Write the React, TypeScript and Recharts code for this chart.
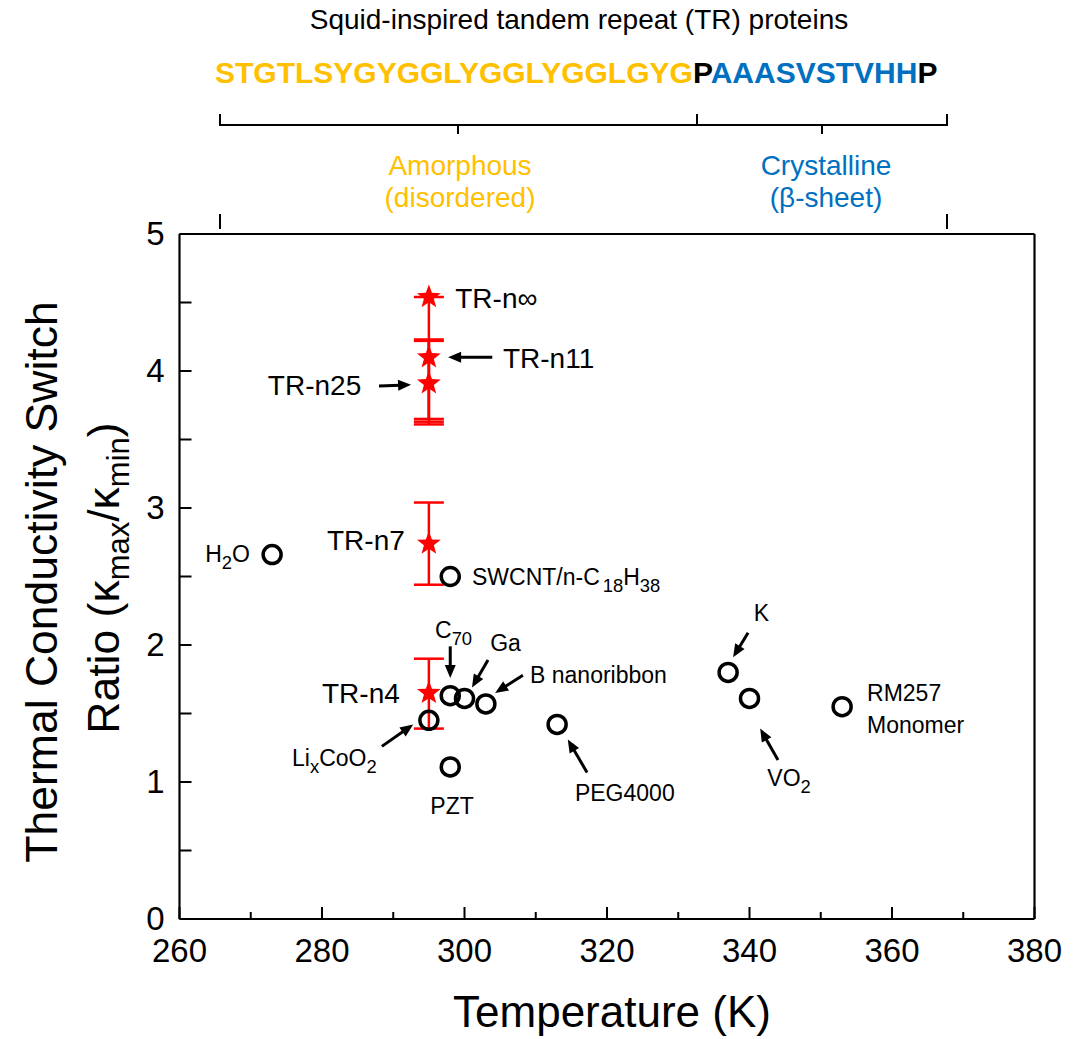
import React from 'react';
import { ScatterChart, Scatter, XAxis, YAxis, ErrorBar, ReferenceLine, ReferenceDot, Label } from 'recharts';

// TR protein series (stars with error bars)
const trNames = ['TR-n∞', 'TR-n11', 'TR-n25', 'TR-n7', 'TR-n4'];
const trTemp = [295, 295, 295, 295, 295];
const trRatio = [4.54, 4.1, 3.91, 2.74, 1.65];
const trErrLow = [0.91, 0.49, 0.26, 0.3, 0.26];
const trErrHigh = [0, 0.13, 0.31, 0.3, 0.25];

// literature materials (open circles)
const refNames = ['H2O', 'SWCNT/n-C18H38', 'C70', 'Ga', 'B nanoribbon', 'LixCoO2', 'PZT', 'PEG4000', 'K', 'VO2', 'RM257 Monomer'];
const refTemp = [273, 298, 298, 300, 303, 295, 298, 313, 337, 340, 353];
const refRatio = [2.66, 2.5, 1.63, 1.61, 1.57, 1.45, 1.11, 1.42, 1.8, 1.61, 1.55];

const xTicks = [260, 270, 280, 290, 300, 310, 320, 330, 340, 350, 360, 370, 380];
const yTicks = [0, 0.5, 1, 1.5, 2, 2.5, 3, 3.5, 4, 4.5, 5];

const trData = trNames.map((name, i) => ({ name, x: trTemp[i], y: trRatio[i], err: [trErrLow[i], trErrHigh[i]] }));
const refData = refNames.map((name, i) => ({ name, x: refTemp[i], y: refRatio[i] }));

// text annotations: [text, isSubscript]
type Part = [string, boolean?];
const notes: { x: number; y: number; size: number; parts: Part[] }[] = [
  { x: 298.7, y: 4.53, size: 28, parts: [['TR-n∞']] },
  { x: 305.4, y: 4.095, size: 28, parts: [['TR-n11']] },
  { x: 272.4, y: 3.9, size: 28, parts: [['TR-n25']] },
  { x: 280.7, y: 2.766, size: 28, parts: [['TR-n7']] },
  { x: 280.0, y: 1.65, size: 28, parts: [['TR-n4']] },
  { x: 263.6, y: 2.664, size: 23, parts: [['H'], ['2', true], ['O']] },
  { x: 301.05, y: 2.496, size: 23, parts: [['SWCNT/n-C'], ['18', true], ['H'], ['38', true]] },
  { x: 295.86, y: 2.109, size: 23, parts: [['C'], ['70', true]] },
  { x: 303.6, y: 2.015, size: 23, parts: [['Ga']] },
  { x: 309.2, y: 1.78, size: 23, parts: [['B nanoribbon']] },
  { x: 275.8, y: 1.18, size: 23, parts: [['Li'], ['x', true], ['CoO'], ['2', true]] },
  { x: 295.2, y: 0.825, size: 23, parts: [['PZT']] },
  { x: 315.5, y: 0.92, size: 23, parts: [['PEG4000']] },
  { x: 340.6, y: 2.234, size: 23, parts: [['K']] },
  { x: 342.5, y: 1.03, size: 23, parts: [['VO'], ['2', true]] },
  { x: 356.5, y: 1.65, size: 23, parts: [['RM257']] },
  { x: 356.5, y: 1.416, size: 23, parts: [['Monomer']] },
];

// arrows: tail -> head
const arrows = [
  [303.9, 4.1, 297.7, 4.1],
  [288.0, 3.89, 292.5, 3.9],
  [298.0, 1.99, 298.0, 1.76],
  [303.3, 1.89, 301.05, 1.69],
  [308.2, 1.78, 304.3, 1.65],
  [288.4, 1.26, 292.8, 1.42],
  [317.2, 1.07, 314.5, 1.31],
  [339.8, 2.09, 337.7, 1.91],
  [344.0, 1.16, 341.5, 1.39],
];

const W = 1076;
const H = 1031;
const LEFT = 171.5;
const RIGHT = 1026.5;
const TOP = 226;
const BOTTOM = 911;
const FONT = '"Liberation Sans", Arial, Helvetica, sans-serif';
const ORANGE = '#FFC000';
const BLUE = '#0070C0';
const RED = '#FF0000';

function RichText({ x, y, size, parts, anchor = 'start' }: any) {
  const shift = size * 0.3;
  let down = false;
  return (
    <text x={x} y={y} fontSize={size} fontFamily={FONT} fill="#000" textAnchor={anchor}>
      {parts.map((p: Part, i: number) => {
        const sub = !!p[1];
        let dy = 0;
        if (sub && !down) { dy = shift; down = true; }
        else if (!sub && down) { dy = -shift; down = false; }
        return (
          <tspan key={i} dy={dy} fontSize={sub ? size * 0.8 : size} dx={sub && p[0] === '18' ? 3 : 0}>{p[0]}</tspan>
        );
      })}
    </text>
  );
}

function Star({ cx, cy }: any) {
  const pts: string[] = [];
  for (let i = 0; i < 10; i++) {
    const r = i % 2 === 0 ? 12.5 : 5.2;
    const a = -Math.PI / 2 + (i * Math.PI) / 5;
    pts.push(`${cx + r * Math.cos(a)},${cy + r * Math.sin(a)}`);
  }
  return <polygon points={pts.join(' ')} fill={RED} />;
}

function Ring({ cx, cy }: any) {
  return <circle cx={cx} cy={cy} r={9} fill="none" stroke="#000" strokeWidth={3.5} />;
}

function Arrow({ x1, y1, x2, y2 }: any) {
  const dx = x2 - x1;
  const dy = y2 - y1;
  const len = Math.hypot(dx, dy) || 1;
  const ux = dx / len;
  const uy = dy / len;
  const hl = 13;
  const hw = 5.5;
  const bx = x2 - ux * hl;
  const by = y2 - uy * hl;
  return (
    <g>
      <line x1={x1} y1={y1} x2={bx + ux * 2} y2={by + uy * 2} stroke="#000" strokeWidth={3} />
      <polygon points={`${x2},${y2} ${bx - uy * hw},${by + ux * hw} ${bx + uy * hw},${by - ux * hw}`} fill="#000" />
    </g>
  );
}

function BottomTick({ x, payload }: any) {
  const v = payload.value;
  const major = v % 20 === 0;
  return (
    <g>
      <line x1={x} x2={x} y1={BOTTOM} y2={BOTTOM - (major ? 12 : 7)} stroke="#000" strokeWidth={2} />
      {major && (
        <text x={x} y={BOTTOM + 43} textAnchor="middle" fontSize={33} fontFamily={FONT} fill="#000">{v}</text>
      )}
    </g>
  );
}

function TopTick({ x, payload }: any) {
  const major = payload.value % 20 === 0;
  return <line x1={x} x2={x} y1={TOP} y2={TOP + (major ? 12 : 10)} stroke="#000" strokeWidth={2} />;
}

function LeftTick({ y, payload }: any) {
  const v = payload.value;
  return (
    <g>
      <line x1={LEFT} x2={LEFT + 12} y1={y} y2={y} stroke="#000" strokeWidth={2} />
      {Number.isInteger(v) && (
        <text x={LEFT - 15} y={y + 11} textAnchor="end" fontSize={33} fontFamily={FONT} fill="#000">{v}</text>
      )}
    </g>
  );
}

function RightTick({ y }: any) {
  return <line x1={RIGHT} x2={RIGHT - 12} y1={y} y2={y} stroke="#000" strokeWidth={2} />;
}

function YTitle() {
  return (
    <g fontFamily={FONT} fill="#000">
      <text transform="translate(49,574) rotate(-90)" textAnchor="middle" fontSize={44.5}>
        Thermal Conductivity Switch
      </text>
      <text transform="translate(111,570) rotate(-90)" textAnchor="middle" fontSize={44.5}>
        <tspan>Ratio (κ</tspan>
        <tspan fontSize={31} dy={10}>max</tspan>
        <tspan dy={-10}>/κ</tspan>
        <tspan fontSize={31} dy={10}>min</tspan>
        <tspan dy={-10}>)</tspan>
      </text>
    </g>
  );
}

function XTitle() {
  return (
    <text x={604} y={1019} textAnchor="middle" fontSize={44} fontFamily={FONT} fill="#000">
      Temperature (K)
    </text>
  );
}

function Header() {
  return (
    <svg width={W} height={230} style={{ position: 'absolute', left: 0, top: 0, pointerEvents: 'none', overflow: 'visible' }}>
      <text x={571} y={21} textAnchor="middle" fontSize={28} fontFamily={FONT} fill="#000">
        Squid-inspired tandem repeat (TR) proteins
      </text>
      <text x={207} y={75} fontSize={30} fontWeight="bold" fontFamily={FONT}>
        <tspan fill={ORANGE}>STGTLSYGYGGLYGGLYGGLGYG</tspan>
        <tspan fill="#000">P</tspan>
        <tspan fill={BLUE}>AAASVSTVHH</tspan>
        <tspan fill="#000">P</tspan>
      </text>
      <g stroke="#000" strokeWidth={2} fill="none">
        <line x1={212} x2={939} y1={117} y2={117} />
        <line x1={212} x2={212} y1={106} y2={118} />
        <line x1={689} x2={689} y1={106} y2={118} />
        <line x1={939} x2={939} y1={106} y2={118} />
        <line x1={450} x2={450} y1={117} y2={126} />
        <line x1={814} x2={814} y1={117} y2={126} />
        <line x1={212} x2={212} y1={206} y2={221} />
        <line x1={939} x2={939} y1={206} y2={221} />
      </g>
      <g fontSize={28} fontFamily={FONT} textAnchor="middle">
        <text x={452} y={167} fill={ORANGE}>Amorphous</text>
        <text x={452} y={199} fill={ORANGE}>(disordered)</text>
        <text x={818} y={167} fill={BLUE}>Crystalline</text>
        <text x={818} y={199} fill={BLUE}>(β-sheet)</text>
      </g>
    </svg>
  );
}

const axisLine = { stroke: '#000', strokeWidth: 2.2 };

export default function App() {
  return (
    <div style={{ position: 'relative', width: W, height: H, background: '#fff' }}>
      <ScatterChart
        width={W}
        height={H}
        margin={{ top: TOP - 1, right: W - RIGHT - 1, bottom: H - BOTTOM - 1, left: LEFT - 1 }}
      >
        <XAxis
          type="number"
          dataKey="x"
          domain={[260, 380]}
          ticks={xTicks}
          interval={0}
          height={1}
          tickLine={false}
          tickSize={0}
          axisLine={axisLine}
          tick={<BottomTick />}
        >
          <Label content={<XTitle />} />
        </XAxis>
        <XAxis
          xAxisId="top"
          orientation="top"
          type="number"
          dataKey="x"
          domain={[260, 380]}
          ticks={xTicks}
          interval={0}
          height={1}
          tickLine={false}
          tickSize={0}
          axisLine={axisLine}
          tick={<TopTick />}
        />
        <YAxis
          type="number"
          dataKey="y"
          domain={[0, 5]}
          ticks={yTicks}
          interval={0}
          width={1}
          tickLine={false}
          tickSize={0}
          axisLine={axisLine}
          tick={<LeftTick />}
        >
          <Label content={<YTitle />} />
        </YAxis>
        <YAxis
          yAxisId="right"
          orientation="right"
          type="number"
          dataKey="y"
          domain={[0, 5]}
          ticks={yTicks}
          interval={0}
          width={1}
          tickLine={false}
          tickSize={0}
          axisLine={axisLine}
          tick={<RightTick />}
        />
        {arrows.map((a, i) => (
          <ReferenceLine
            key={`ar${i}`}
            segment={[{ x: a[0], y: a[1] }, { x: a[2], y: a[3] }]}
            ifOverflow="visible"
            shape={(p: any) => <Arrow {...p} />}
          />
        ))}
        <Scatter data={trData} dataKey="y" isAnimationActive={false} shape={<Star />}>
          <ErrorBar dataKey="err" direction="y" width={15} stroke={RED} strokeWidth={2.5} />
        </Scatter>
        <Scatter data={refData} dataKey="y" isAnimationActive={false} shape={<Ring />} />
        {notes.map((n, i) => (
          <ReferenceDot
            key={`n${i}`}
            x={n.x}
            y={n.y}
            r={0}
            ifOverflow="visible"
            shape={(p: any) => <RichText x={p.cx} y={p.cy + n.size * 0.36} size={n.size} parts={n.parts} />}
          />
        ))}
      </ScatterChart>
      <Header />
    </div>
  );
}
